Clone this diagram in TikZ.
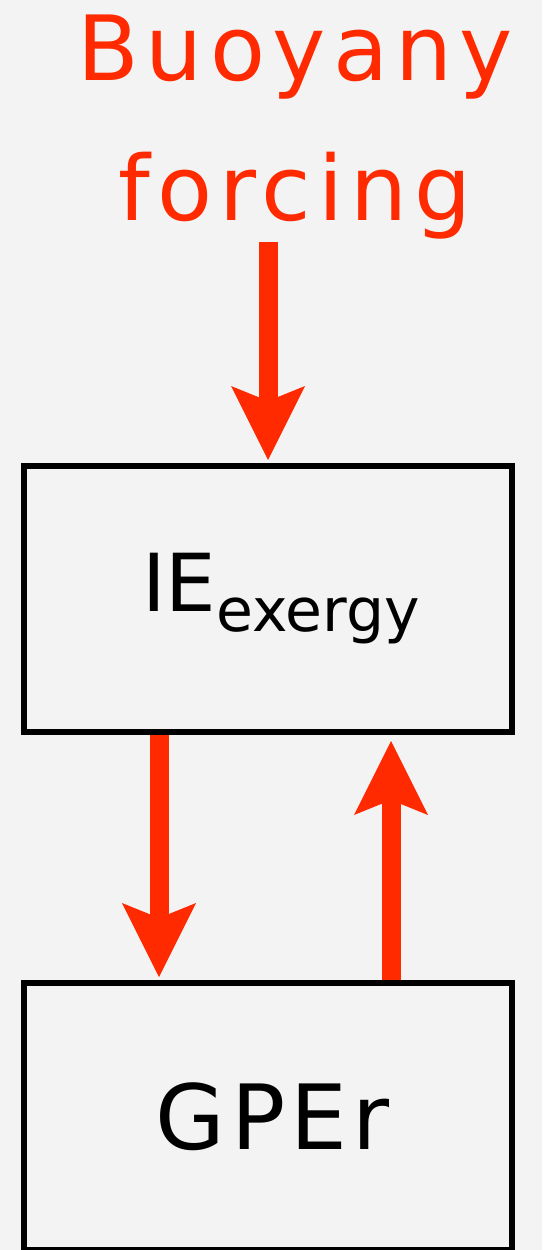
\documentclass[tikz,border=0pt]{standalone}
\usepackage{fontspec}
\setmainfont{DejaVu Sans}
\usetikzlibrary{arrows.meta}
\definecolor{arrred}{HTML}{FF2A00}
\definecolor{bgcol}{HTML}{F3F3F3}
\begin{document}
\begin{tikzpicture}[x=1pt,y=-1pt,
  boxnode/.style={draw=black, line width=6pt, minimum width=488pt, inner sep=0pt},
  bigarrow/.style={draw=arrred, line width=19pt,
    -{Stealth[length=74pt, width=74pt, inset=15pt, line width=0pt, fill=arrred]}},
  titletext/.style={text=arrred, align=center, inner sep=0pt,
    font=\fontsize{90}{140}\selectfont\addfontfeature{LetterSpace=8}},
  boxtext/.style={text=black}]
\useasboundingbox (0,0) rectangle (542,1250);
\fill[bgcol] (0,0) rectangle (542,1250);

\node[titletext, anchor=base] (title) at (295,220) {Buoyany\\forcing};

\node[boxnode, minimum height=266pt] (ie) at (268,599)
  {\hspace*{26pt}{\fontsize{80}{90}\selectfont IE}\raisebox{-20pt}{\fontsize{60}{70}\selectfont exergy}};
\node[boxnode, minimum height=267pt] (gpe) at (268,1116.5)
  {\hspace*{10pt}\fontsize{90}{100}\selectfont\addfontfeature{LetterSpace=6}GPEr};

\coordinate (a1) at (268,242);
\coordinate (x2) at (159,0);
\coordinate (x3) at (391,0);
\draw[bigarrow, shorten >=3pt] (a1) -- (a1 |- ie.north);
\draw[bigarrow, shorten >=3pt] (ie.south -| x2) -- (gpe.north -| x2);
\draw[bigarrow, shorten >=6pt] (gpe.north -| x3) -- (ie.south -| x3);
\end{tikzpicture}
\end{document}
